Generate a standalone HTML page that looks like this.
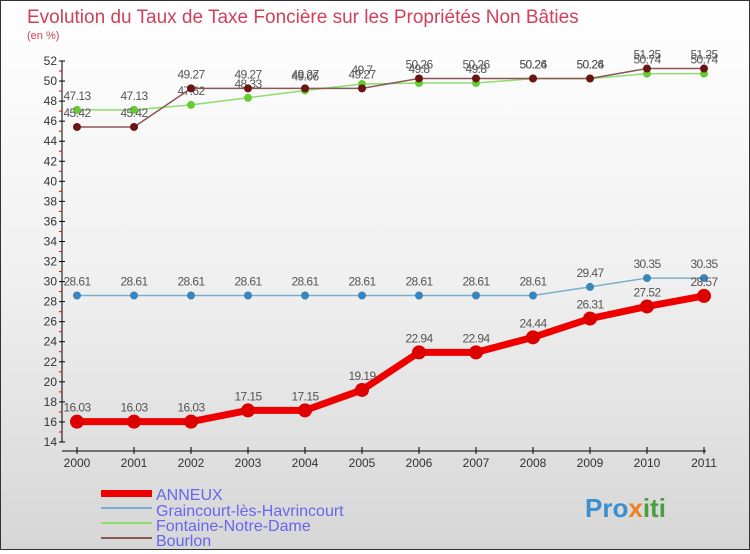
<!DOCTYPE html>
<html><head><meta charset="utf-8"><style>
body{margin:0;width:750px;height:550px;overflow:hidden;font-family:"Liberation Sans",sans-serif}
#wrap{position:relative;width:748px;height:548px;border:1px solid #333;background:linear-gradient(#ffffff,#f0f0f0 50%,#d6d6d6)}
</style></head><body>
<div id="wrap">
<svg id="svg" width="748" height="548" xmlns="http://www.w3.org/2000/svg">
<text x="26" y="22" font-size="19" fill="#d0405a">Evolution du Taux de Taxe Foncière sur les Propriétés Non Bâties</text>
<text x="26" y="38" font-size="11" fill="#d0405a">(en %)</text>
<g id="axes"></g><g id="series"></g>
<g>
<rect x="100" y="489" width="51" height="7" fill="#e00"/>
<line x1="100" y1="507" x2="151" y2="507" stroke="#7aaed0" stroke-width="2"/>
<line x1="100" y1="522" x2="151" y2="522" stroke="#8fdc70" stroke-width="2"/>
<line x1="100" y1="537" x2="151" y2="537" stroke="#8a5555" stroke-width="2"/>
<g font-size="16" fill="#6666ee">
<text x="155" y="499">ANNEUX</text>
<text x="155" y="515">Graincourt-lès-Havrincourt</text>
<text x="155" y="530">Fontaine-Notre-Dame</text>
<text x="155" y="545">Bourlon</text>
</g></g>
<text x="584" y="516" font-size="26" font-weight="bold" fill="#3a8fd0">Pro<tspan fill="#f08020">x</tspan><tspan fill="#4aa040">iti</tspan></text>
</svg></div>
<script>
const years=[2000,2001,2002,2003,2004,2005,2006,2007,2008,2009,2010,2011];
const anneux=[16.03,16.03,16.03,17.15,17.15,19.19,22.94,22.94,24.44,26.31,27.52,28.57];
const graincourt=[28.61,28.61,28.61,28.61,28.61,28.61,28.61,28.61,28.61,29.47,30.35,30.35];
const fontaine=[47.13,47.13,47.62,48.33,49.06,49.7,49.8,49.8,50.24,50.24,50.74,50.74];
const bourlon=[45.42,45.42,49.27,49.27,49.27,49.27,50.26,50.26,50.26,50.26,51.25,51.25];
const yTicks=[14,16,18,20,22,24,26,28,30,32,34,36,38,40,42,44,46,48,50,52];
const NS="http://www.w3.org/2000/svg";
const X=i=>76+i*57, Y=v=>441-(v-14)*(381/38);
function mk(t,a,p){const e=document.createElementNS(NS,t);for(const k in a)e.setAttribute(k,a[k]);p.appendChild(e);return e;}
const ax=document.getElementById('axes'), sg=document.getElementById('series');
let l=mk('line',{x1:61,y1:60,x2:61,y2:441,stroke:'#000'},ax);

l=mk('line',{x1:61,y1:450,x2:705,y2:450,stroke:'#000'},ax);

yTicks.forEach(v=>{
 mk('line',{x1:58,y1:Y(v),x2:64,y2:Y(v),stroke:'#000'},ax);
 if(v<52) mk('line',{x1:58,y1:Y(v+1),x2:61,y2:Y(v+1),stroke:'#e00'},ax);
 const t=mk('text',{x:56,y:Y(v)+4,'font-size':12,fill:'#333','text-anchor':'end'},ax);t.textContent=v;
 
});
years.forEach((y,i)=>{
 mk('line',{x1:X(i),y1:446,x2:X(i),y2:453,stroke:'#000'},ax);
 const t=mk('text',{x:X(i),y:466,'font-size':12,fill:'#333','text-anchor':'middle'},ax);t.textContent=y;
 
});
function draw(data,name,color,dot,w,r){
 const g=mk('g',{},sg);
 
 mk('polyline',{points:data.map((v,i)=>X(i)+','+Y(v)).join(' '),fill:'none',stroke:color,'stroke-width':w},g);
 data.forEach((v,i)=>{
  const c=mk('circle',{cx:X(i),cy:Y(v),r:r,fill:dot},g);
  
  const t=mk('text',{x:X(i),y:Y(v)-10,'font-size':12,fill:'#555','text-anchor':'middle','letter-spacing':'-0.6'},g);t.textContent=v;
  
 });
}
draw(graincourt,'graincourt','#7aaed0','#3a85bb',1.5,4);
draw(fontaine,'fontaine','#8fdc70','#66cc33',1.5,4);
draw(bourlon,'bourlon','#8a5555','#6a1515',1.5,4);
draw(anneux,'anneux','#ee0000','#dd0000',7,7);
</script>
</body></html>
